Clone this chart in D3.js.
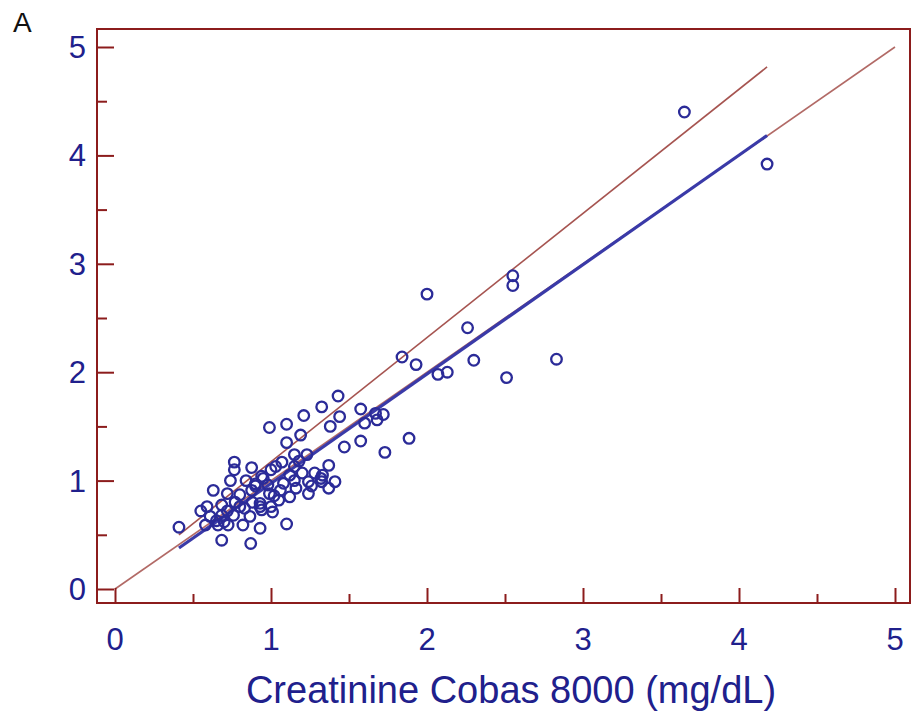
<!DOCTYPE html>
<html>
<head>
<meta charset="utf-8">
<script src="https://cdn.jsdelivr.net/npm/d3@7/dist/d3.min.js"></script>
<style>
  html, body { margin: 0; padding: 0; background: #ffffff; }
  svg { display: block; }
  text { font-family: "Liberation Sans", Arial, Helvetica, sans-serif; }
</style>
</head>
<body>
<svg id="chart" width="912" height="715"></svg>
<script>
// Creatinine measured on Cobas 8000 (x) vs comparison method (y), mg/dL
const cobasX = [
  3.65, 4.18, 2.55, 2.55, 2.00, 2.26, 2.30, 2.83, 2.51, 1.84,
  1.93, 2.07, 2.13, 1.885, 1.73, 1.43, 1.44, 1.575, 1.60, 1.67,
  1.72, 1.68, 1.47, 1.575, 1.325, 1.21, 1.10, 0.99, 1.38, 1.19,
  1.10, 1.15, 1.23, 1.07, 1.00, 1.15, 0.94, 1.37, 1.28, 1.20,
  1.41, 1.325, 1.24, 1.15, 1.08, 0.98, 1.37, 1.24, 1.12, 1.06,
  0.99, 0.93, 1.00, 1.01, 0.94, 1.10, 0.765, 0.765, 0.876, 1.03,
  0.74, 0.84, 0.95, 0.63, 0.72, 0.80, 0.876, 0.90, 0.59, 0.684,
  0.77, 0.83, 0.93, 0.58, 0.66, 0.725, 0.82, 0.93, 0.61, 0.684,
  0.76, 0.865, 0.41, 0.684, 0.87, 0.80, 0.88, 1.05, 0.72, 0.90,
  1.18, 1.32, 0.55, 0.65, 1.12, 1.26, 1.33, 1.16, 0.70, 1.02
];
const comparisonY = [
  4.40, 3.92, 2.89, 2.80, 2.72, 2.41, 2.11, 2.12, 1.95, 2.14,
  2.07, 1.98, 2.00, 1.39, 1.26, 1.78, 1.59, 1.66, 1.53, 1.62,
  1.61, 1.56, 1.31, 1.365, 1.68, 1.60, 1.52, 1.49, 1.50, 1.42,
  1.35, 1.24, 1.24, 1.17, 1.10, 1.13, 1.04, 1.14, 1.07, 1.07,
  0.99, 0.99, 0.99, 1.00, 0.975, 0.96, 0.93, 0.88, 0.85, 0.91,
  0.88, 0.79, 0.76, 0.71, 0.73, 0.60, 1.17, 1.10, 1.12, 1.13,
  1.00, 1.00, 1.02, 0.91, 0.88, 0.87, 0.91, 0.95, 0.76, 0.775,
  0.80, 0.745, 0.76, 0.59, 0.59, 0.59, 0.59, 0.56, 0.67, 0.68,
  0.68, 0.67, 0.57, 0.45, 0.42, 0.76, 0.80, 0.82, 0.72, 0.97,
  1.18, 1.02, 0.72, 0.63, 1.05, 0.95, 1.05, 0.93, 0.62, 0.86
];

// Fitted lines: identity, regression (blue) and upper limit (red)
const identityLine = { intercept: 0, slope: 1, from: 0, to: 5 };
const regressionLine = { intercept: -0.036, slope: 1.0095, from: 0.41, to: 4.18 };
const upperLine = { intercept: 0.03, slope: 1.145, from: 0.41, to: 4.18 };

const majorTicks = [0, 1, 2, 3, 4, 5];
const minorTicks = [0.5, 1.5, 2.5, 3.5, 4.5];

const xLabel = "Creatinine Cobas 8000 (mg/dL)";
const panelLetter = "A";

const frameColor = "#8c1c1c";
const inkBlue = "#20208c";
const pointBlue = "#2b2b98";

const svg = d3.select("#chart");

const frame = { left: 97, right: 910, top: 29, bottom: 603 };
const x = d3.scaleLinear().domain([0, 5]).range([115, 895]);
const y = d3.scaleLinear().domain([0, 5]).range([589, 47]);

// Lines
const lineGen = d3.line().x(d => x(d[0])).y(d => y(d[1]));
function seg(l) {
  return [[l.from, l.intercept + l.slope * l.from], [l.to, l.intercept + l.slope * l.to]];
}
svg.append("path").attr("d", lineGen(seg(identityLine)))
  .attr("fill", "none").attr("stroke", "#b26a66").attr("stroke-width", 1.6);
svg.append("path").attr("d", lineGen(seg(regressionLine)))
  .attr("fill", "none").attr("stroke", "#3a3aa8").attr("stroke-width", 3.2);
svg.append("path").attr("d", lineGen(seg(upperLine)))
  .attr("fill", "none").attr("stroke", "#a65450").attr("stroke-width", 1.6);

// Points
const pts = cobasX.map((v, i) => [v, comparisonY[i]]);
svg.append("g").selectAll("circle").data(pts).join("circle")
  .attr("cx", d => x(d[0])).attr("cy", d => y(d[1])).attr("r", 5.3)
  .attr("fill", "none").attr("stroke", pointBlue).attr("stroke-width", 2.3);

// Frame
svg.append("rect")
  .attr("x", frame.left).attr("y", frame.top)
  .attr("width", frame.right - frame.left).attr("height", frame.bottom - frame.top)
  .attr("fill", "none").attr("stroke", frameColor).attr("stroke-width", 2);

// Bottom axis ticks (pointing inward)
const xAxisMajor = d3.axisBottom(x).tickValues(majorTicks).tickSize(-15).tickFormat("");
const xAxisMinor = d3.axisBottom(x).tickValues(minorTicks).tickSize(-9).tickFormat("");
[xAxisMajor, xAxisMinor].forEach(ax => {
  const g = svg.append("g").attr("transform", `translate(0,${frame.bottom})`).call(ax);
  g.select(".domain").remove();
  g.selectAll("line").attr("stroke", frameColor).attr("stroke-width", 2);
});
// Left axis ticks
const yAxisMajor = d3.axisLeft(y).tickValues(majorTicks).tickSize(-17).tickFormat("");
const yAxisMinor = d3.axisLeft(y).tickValues(minorTicks).tickSize(-10).tickFormat("");
[yAxisMajor, yAxisMinor].forEach(ax => {
  const g = svg.append("g").attr("transform", `translate(${frame.left},0)`).call(ax);
  g.select(".domain").remove();
  g.selectAll("line").attr("stroke", frameColor).attr("stroke-width", 2);
});

// Tick labels
svg.append("g").selectAll("text").data(majorTicks).join("text")
  .attr("x", d => x(d)).attr("y", 650)
  .attr("text-anchor", "middle").attr("font-size", 31).attr("fill", inkBlue)
  .text(d => d);
svg.append("g").selectAll("text").data(majorTicks).join("text")
  .attr("x", 86).attr("y", d => y(d) + 11)
  .attr("text-anchor", "end").attr("font-size", 31).attr("fill", inkBlue)
  .text(d => d);

// Axis title
svg.append("text").attr("x", 511).attr("y", 703)
  .attr("text-anchor", "middle").attr("font-size", 38).attr("fill", inkBlue)
  .text(xLabel);

// Panel letter
svg.append("text").attr("x", 13).attr("y", 32)
  .attr("font-size", 28).attr("fill", "#111").text(panelLetter);
</script>
</body>
</html>
